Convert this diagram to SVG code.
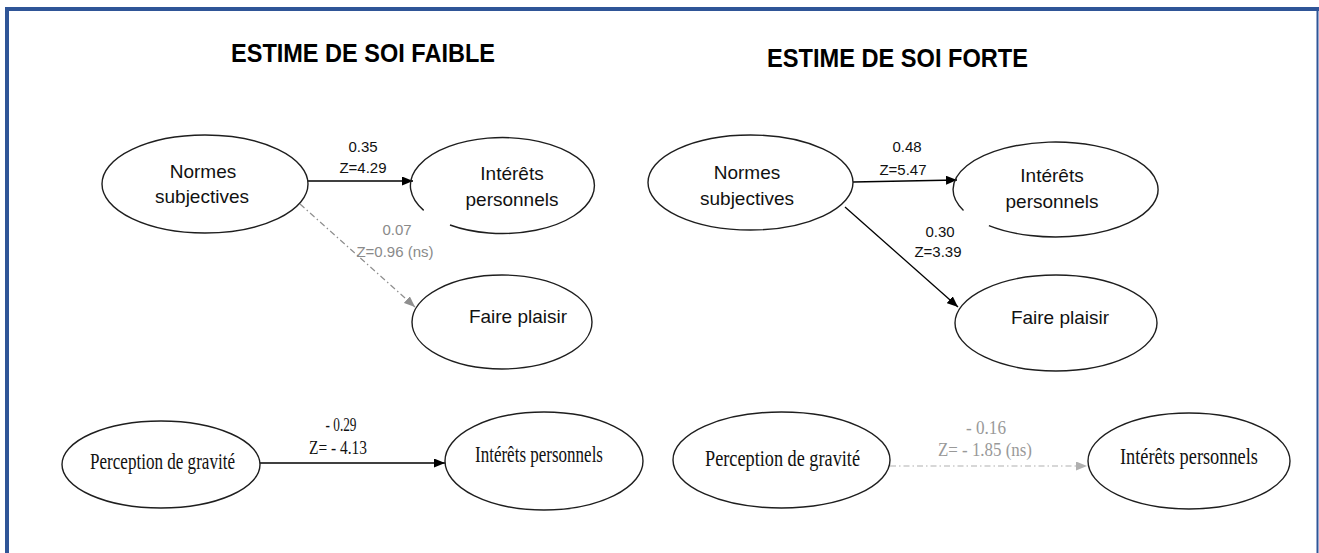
<svg xmlns="http://www.w3.org/2000/svg" width="1319" height="553" viewBox="0 0 1319 553">
<style>
.node{fill:none;stroke:#1e1e1e;stroke-width:1.4}
.cal{font-family:"Liberation Sans",Arial,sans-serif;fill:#111;text-anchor:middle}
.nt{font-size:19px}
.lb{font-size:15px}
.gl{fill:#8a8a8a}
.tnr{font-family:"Liberation Serif","Times New Roman",serif;fill:#111;text-anchor:middle}
.tn{font-size:23px}
.tl{font-size:19px}
.tg{fill:#999}
.title{font-family:"Liberation Sans",Arial,sans-serif;font-weight:bold;font-size:25px;fill:#000;text-anchor:middle}
.edge{fill:none;stroke:#000;stroke-width:1.3}
.edge-ns{fill:none;stroke:#8f8f8f;stroke-width:1.2;stroke-dasharray:6 3 1.5 3}
.edge-ns2{fill:none;stroke:#b0b0b0;stroke-width:1.2;stroke-dasharray:6 3 1.5 3}
</style>
<defs>
<marker id="ah" markerUnits="userSpaceOnUse" markerWidth="11" markerHeight="9" refX="11" refY="4.5" orient="auto"><path d="M0,0 L11,4.5 L0,9 z" fill="#000"/></marker>
<marker id="ahg" markerUnits="userSpaceOnUse" markerWidth="11" markerHeight="9" refX="11" refY="4.5" orient="auto"><path d="M0,0 L11,4.5 L0,9 z" fill="#8f8f8f"/></marker>
<marker id="ahg2" markerUnits="userSpaceOnUse" markerWidth="11" markerHeight="9" refX="11" refY="4.5" orient="auto"><path d="M0,0 L11,4.5 L0,9 z" fill="#b0b0b0"/></marker>
</defs>
<rect x="0" y="0" width="1319" height="553" fill="#fff"/>
<g id="frame">
<line x1="7" y1="9" x2="1319" y2="9" stroke="#2f5597" stroke-width="4"/>
<line x1="7" y1="7" x2="7" y2="553" stroke="#2f5597" stroke-width="4"/>
<line x1="1317.5" y1="9" x2="1317.5" y2="553" stroke="#2f5597" stroke-width="2"/>
</g>
<g id="titles">
<text class="title" x="363" y="62" textLength="264" lengthAdjust="spacingAndGlyphs">ESTIME DE SOI FAIBLE</text>
<text class="title" x="897.5" y="67" textLength="261" lengthAdjust="spacingAndGlyphs">ESTIME DE SOI FORTE</text>
</g>
<g id="connectors">
<line class="edge" x1="308" y1="181" x2="413" y2="181" marker-end="url(#ah)"/>
<line class="edge-ns" x1="300" y1="204" x2="415" y2="307" marker-end="url(#ahg)"/>
<line class="edge" x1="853" y1="182" x2="957" y2="180" marker-end="url(#ah)"/>
<line class="edge" x1="845" y1="207" x2="958" y2="307" marker-end="url(#ah)"/>
<line class="edge" x1="260" y1="463" x2="445" y2="463" marker-end="url(#ah)"/>
<line class="edge-ns2" x1="890" y1="466" x2="1087" y2="466" marker-end="url(#ahg2)"/>
<text class="cal lb" x="363" y="152">0.35</text>
<text class="cal lb" x="363" y="173">Z=4.29</text>
<text class="cal lb gl" x="397" y="235">0.07</text>
<text class="cal lb gl" x="395" y="257">Z=0.96 (ns)</text>
<text class="cal lb" x="907" y="152">0.48</text>
<text class="cal lb" x="903" y="175">Z=5.47</text>
<text class="cal lb" x="940" y="237">0.30</text>
<text class="cal lb" x="938" y="257">Z=3.39</text>
<text class="tnr tl" x="341" y="431" textLength="31" lengthAdjust="spacingAndGlyphs">- 0.29</text>
<text class="tnr tl" x="338" y="454" textLength="58" lengthAdjust="spacingAndGlyphs">Z= - 4.13</text>
<text class="tnr tl tg" x="986" y="434" textLength="40" lengthAdjust="spacingAndGlyphs">- 0.16</text>
<text class="tnr tl tg" x="985" y="456" textLength="94" lengthAdjust="spacingAndGlyphs">Z= - 1.85 (ns)</text>
</g>
<g id="n-normes-faible">
<ellipse class="node" cx="205" cy="184" rx="103" ry="49"/>
<text class="cal nt" x="203" y="178">Normes</text>
<text class="cal nt" x="202" y="203">subjectives</text>
</g>
<g id="n-interets-faible">
<path class="node" d="M423.7 210.4 A92 48 0 1 1 450 225"/>
<text class="cal nt" x="512" y="180">Intérêts</text>
<text class="cal nt" x="512" y="206">personnels</text>
</g>
<g id="n-plaisir-faible">
<ellipse class="node" cx="502" cy="322" rx="90" ry="47"/>
<text class="cal nt" x="518" y="323">Faire plaisir</text>
</g>
<g id="n-normes-forte">
<ellipse class="node" cx="750.5" cy="182.5" rx="102.5" ry="47.5"/>
<text class="cal nt" x="747" y="179">Normes</text>
<text class="cal nt" x="747" y="205">subjectives</text>
</g>
<g id="n-interets-forte">
<path class="node" d="M963.5 210.4 A102.5 47.5 0 1 1 988.9 225.6"/>
<text class="cal nt" x="1052" y="182">Intérêts</text>
<text class="cal nt" x="1052" y="208">personnels</text>
</g>
<g id="n-plaisir-forte">
<ellipse class="node" cx="1056" cy="323" rx="101" ry="48"/>
<text class="cal nt" x="1060" y="324">Faire plaisir</text>
</g>
<g id="n-gravite-faible">
<ellipse class="node" cx="161" cy="464.5" rx="99" ry="43.5"/>
<text class="tnr tn" x="162.5" y="469" textLength="145" lengthAdjust="spacingAndGlyphs">Perception de gravité</text>
</g>
<g id="n-interets-bas-faible">
<ellipse class="node" cx="544" cy="461" rx="99" ry="49"/>
<text class="tnr tn" x="539" y="462" textLength="128" lengthAdjust="spacingAndGlyphs">Intérêts personnels</text>
</g>
<g id="n-gravite-forte">
<ellipse class="node" cx="781.5" cy="460" rx="108.5" ry="48"/>
<text class="tnr tn" x="782.5" y="466" textLength="155" lengthAdjust="spacingAndGlyphs">Perception de gravité</text>
</g>
<g id="n-interets-bas-forte">
<ellipse class="node" cx="1189" cy="461" rx="101" ry="48"/>
<text class="tnr tn" x="1189" y="464" textLength="138" lengthAdjust="spacingAndGlyphs">Intérêts personnels</text>
</g>
</svg>
